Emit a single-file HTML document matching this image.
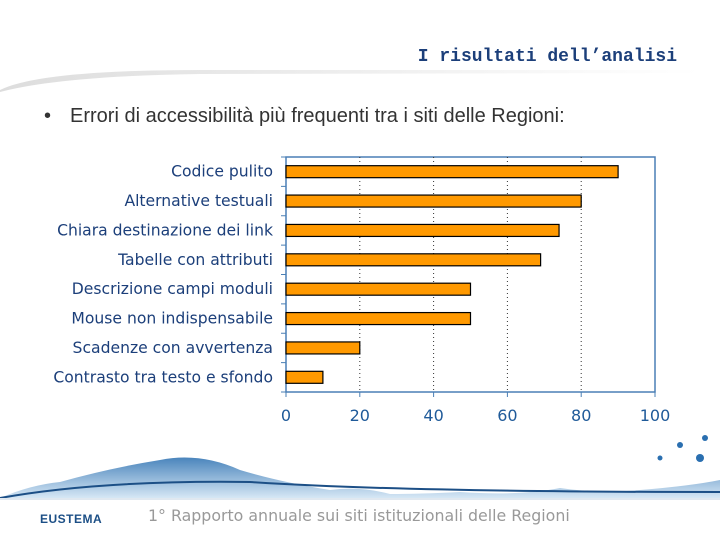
<!DOCTYPE html>
<html><head><meta charset="utf-8"><style>
body{margin:0;width:720px;height:540px;overflow:hidden;background:#fff;font-family:"Liberation Sans",sans-serif;position:relative}
.abs{position:absolute}
</style></head><body>
<div class="abs" style="right:43px;top:47px;font-family:'Liberation Mono',monospace;font-weight:bold;font-size:18px;color:#1c3f7a">I risultati dell’analisi</div>
<svg class="abs" style="left:0;top:66px" width="720" height="30">
<defs><linearGradient id="g1" x1="0" x2="1"><stop offset="0" stop-color="#ddd"/><stop offset="0.5" stop-color="#eee"/><stop offset="1" stop-color="#fff"/></linearGradient></defs>
<path d="M0,24 Q40,4 200,4 L700,4 L700,7 L200,8 Q60,10 0,26Z" fill="url(#g1)"/>
</svg>
<div class="abs" style="left:44px;top:105px;font-size:20px;color:#333"><span>•</span><span style="position:absolute;left:26px;white-space:nowrap">Errori di accessibilità più frequenti tra i siti delle Regioni:</span></div>
<svg class="abs" style="left:0;top:0" width="720" height="540" id="chart"></svg>
<svg class="abs" style="left:0;top:430px" width="720" height="70">
<defs><linearGradient id="w" x1="0" y1="0" x2="0" y2="1"><stop offset="0" stop-color="#2a6fb0"/><stop offset="1" stop-color="#cfe3f3"/></linearGradient></defs>
<path d="M0,68 Q30,55 60,52 Q110,38 160,30 Q200,22 240,40 Q280,52 330,60 Q360,56 390,64 Q420,64 460,62 Q520,66 560,58 Q600,64 640,60 Q690,56 720,50 L720,68Z" fill="url(#w)" opacity="0.85"/>
<path d="M0,68 Q100,50 250,52 Q400,62 720,62" stroke="#1c4f86" stroke-width="2" fill="none"/>
<circle cx="700" cy="28" r="4" fill="#2a6fb0"/><circle cx="680" cy="15" r="3" fill="#2a6fb0"/><circle cx="705" cy="8" r="3" fill="#2a6fb0"/><circle cx="660" cy="28" r="2.5" fill="#2a6fb0"/>
</svg>
<div class="abs" style="left:0;top:498px;width:720px;height:2px;background:#e0e8f0"></div>
<div class="abs" style="left:40px;top:512px;font-weight:bold;font-size:12px;color:#1c4f86;letter-spacing:0.5px">EUSTEMA</div>
<div class="abs" style="left:148px;top:506px;font-family:'DejaVu Sans',sans-serif;font-size:15.8px;color:#999;white-space:nowrap">1° Rapporto annuale sui siti istituzionali delle Regioni</div>
<script>
const categories=["Codice pulito","Alternative testuali","Chiara destinazione dei link","Tabelle con attributi","Descrizione campi moduli","Mouse non indispensabile","Scadenze con avvertenza","Contrasto tra testo e sfondo"];
const values=[90,80,74,69,50,50,20,10];
const ticks=[0,20,40,60,80,100];
const svg=document.getElementById('chart');const NS='http://www.w3.org/2000/svg';
const L=286,R=655,T=157,B=392;
const x=v=>L+(v-0)/(100)*(R-L);
const band=(B-T)/categories.length;
const y=i=>T+band*(i+0.5);
function mk(t,a,p){const e=document.createElementNS(NS,t);for(const k in a)e.setAttribute(k,a[k]);(p||svg).appendChild(e);return e;}
const fr=mk('rect',{x:L,y:T,width:R-L,height:B-T,fill:'none',stroke:'#4a7fb5','stroke-width':1.5});


ticks.forEach(t=>{
 if(t>0&&t<100){const g=mk('line',{x1:x(t),x2:x(t),y1:T,y2:B,stroke:'#333','stroke-dasharray':'1,3'});
 
 }
 const tk=mk('line',{x1:x(t),x2:x(t),y1:B,y2:B+5,stroke:'#4a7fb5'});
 
 
 const tx=mk('text',{x:x(t),y:B+29,'text-anchor':'middle','font-size':16,fill:'#1f5a99','font-family':'DejaVu Sans, sans-serif'});
 tx.textContent=t;
 
 
});
for(let i=0;i<=categories.length;i++){const tk=mk('line',{x1:L-5,x2:L,y1:T+band*i,y2:T+band*i,stroke:'#4a7fb5'});
 
 }
categories.forEach((c,i)=>{
 const b=mk('rect',{x:L,y:y(i)-6,width:x(values[i])-L,height:12,fill:'#ff9900',stroke:'#000','stroke-width':1.2});
 
 
 const tx=mk('text',{x:273,y:y(i)+5,'text-anchor':'end','font-size':15.6,fill:'#1c3f7a','font-family':'DejaVu Sans, sans-serif'});
 tx.textContent=c;
 
 
});
</script>
</body></html>
